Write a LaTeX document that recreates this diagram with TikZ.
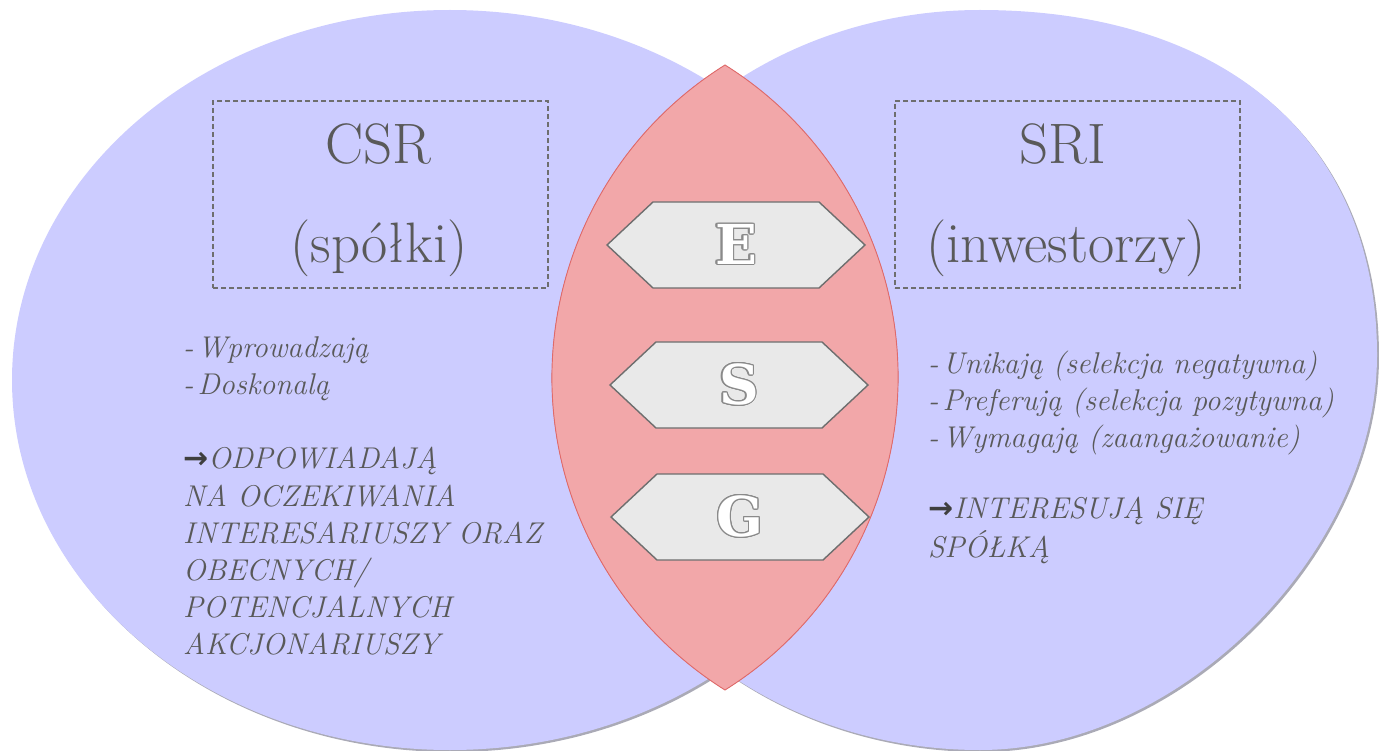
\documentclass[tikz,border=0pt]{standalone}
\usepackage{fontspec}
\usepackage{contour}
\contourlength{1.2pt}
\newfontfamily\arrowfont{DejaVu Sans}
\newfontfamily\letterfont{DejaVu Serif}
\definecolor{venn}{HTML}{CCCCFF}
\definecolor{vennshadow}{HTML}{8E8E9E}
\definecolor{lensfill}{HTML}{F2A7A9}
\definecolor{lensedge}{HTML}{E06A6A}
\definecolor{lensshadow}{HTML}{8E1414}
\definecolor{hexfill}{HTML}{E9E9E9}
\definecolor{hexedge}{HTML}{6E6E6E}
\definecolor{letteredge}{HTML}{8A8A8A}
\definecolor{ink}{HTML}{595959}
\definecolor{arrowink}{HTML}{3F3F3F}
\tikzset{
  vennset/.style={fill=venn},
  vennshade/.style={fill=vennshadow, opacity=0.75},
  dashbox/.style={draw=hexedge, line width=1.3pt, dash pattern=on 5pt off 3pt,
    inner sep=0pt, minimum width=335pt, minimum height=187pt},
  title/.style={text=ink, font=\fontsize{57}{62}\selectfont, inner sep=0pt, anchor=base},
  item/.style={text=ink, font=\fontsize{30}{37}\selectfont\itshape, inner sep=0pt, anchor=base west},
  hexbox/.style={fill=hexfill, draw=hexedge, line width=1.4pt, line join=miter},
  letter/.style={text=white, font=\letterfont\bfseries\fontsize{55}{55}\selectfont, inner sep=0pt}
}
\newcommand{\bigarrow}{{\color{arrowink}\arrowfont\bfseries →}}
\newcommand{\hexagonat}[1]{%
  \draw[hexbox] (#1) ++(-129,0) -- ++(46,-43) -- ++(166,0) -- ++(46,43)
    -- ++(-46,43) -- ++(-166,0) -- cycle;}
% outline of the investors' set: an oval whose right side is fuller at the top
\newcommand{\investorsoutline}{%
  (980,10) arc[start angle=90, end angle=270, x radius=414pt, y radius=370pt]
  .. controls (1179.5,750) and (1377,552.5) .. (1377,355)
  .. controls (1377,141) and (1226,10) .. (980,10) -- cycle}
\newcommand{\lensoutline}{%
  (lenstop) arc[start angle=122.05, end angle=237.95, radius=368.7pt]
  arc[start angle=-57.95, end angle=57.95, radius=368.7pt] -- cycle}
\begin{document}
\begin{tikzpicture}[x=1pt, y=-1pt]
\useasboundingbox (0,0) rectangle (1379,751);
\clip (0,0) rectangle (1379,751);
% the two sets, each with a soft drop shadow
\fill[vennshade] (452,382) ellipse [x radius=438pt, y radius=370pt];
\begin{scope}[shift={(2,2)}]
  \fill[vennshade] \investorsoutline;
\end{scope}
\fill[vennset] (450,380) ellipse [x radius=438pt, y radius=370pt];
\fill[vennset] \investorsoutline;
% the common part, with a dark shadow along its lower right side
\coordinate (lenstop) at (725,65);
\begin{scope}[shift={(2.6,2.2)}]
  \fill[lensshadow] \lensoutline;
\end{scope}
\filldraw[fill=lensfill, draw=lensedge, line width=0.9pt] \lensoutline;
% titles
\node[dashbox] (csrbox) at (380.5,194.5) {};
\node[dashbox, minimum width=345pt] (sribox) at (1067.5,194.5) {};
\node[title] (csr) at (378,164) {CSR};
\node[title] (csrsub) at (379,263) {(spółki)};
\node[title] (sri) at (1063,164) {SRI};
\node[title] (srisub) at (1066,263) {(inwestorzy)};
% E, S, G
\coordinate (e) at (736,245);
\coordinate (s) at (739,385);
\coordinate (g) at (740,517);
\hexagonat{e}
\hexagonat{s}
\hexagonat{g}
\node[letter] (E) at (e) {\contour{letteredge}{E}};
\node[letter] (S) at (s) {\contour{letteredge}{S}};
\node[letter] (G) at (g) {\contour{letteredge}{G}};
% companies
\node[item] (l1) at (183,357) {-\hspace{4pt}Wprowadzają};
\node[item] (l2) at (183,394) {-\hspace{4pt}Doskonalą};
\node[item] (l3) at (183,468) {\bigarrow ODPOWIADAJĄ};
\node[item] (l4) at (183,506) {NA OCZEKIWANIA};
\node[item] (l5) at (183,543) {INTERESARIUSZY ORAZ};
\node[item] (l6) at (183,580) {OBECNYCH/};
\node[item] (l7) at (183,617) {POTENCJALNYCH};
\node[item] (l8) at (183,654) {AKCJONARIUSZY};
% investors
\node[item] (r1) at (928,373) {-\hspace{4pt}Unikają (selekcja negatywna)};
\node[item] (r2) at (928,410) {-\hspace{4pt}Preferują (selekcja pozytywna)};
\node[item] (r3) at (928,447) {-\hspace{4pt}Wymagają (zaangażowanie)};
\node[item] (r4) at (928,518) {\bigarrow INTERESUJĄ SIĘ};
\node[item] (r5) at (928,557) {SPÓŁKĄ};
\end{tikzpicture}
\end{document}
